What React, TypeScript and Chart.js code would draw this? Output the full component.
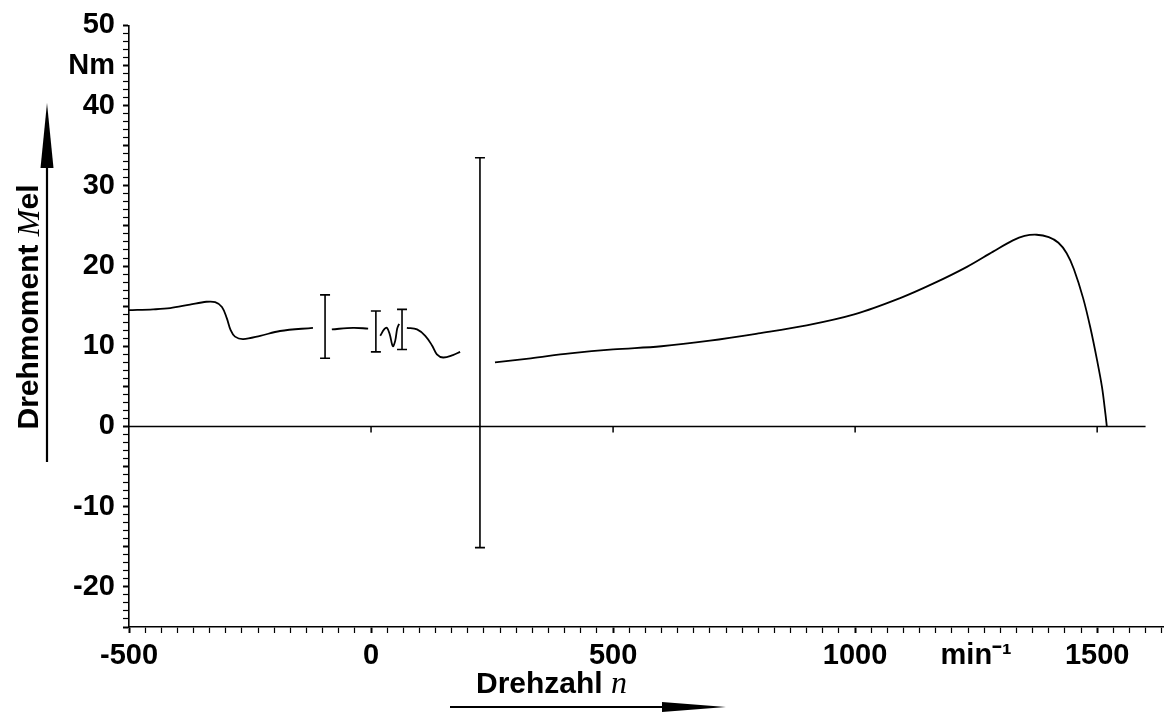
import React, { useEffect, useRef } from "react";
import { Chart, registerables } from "chart.js";

Chart.register(...registerables);

// ---- data (speed n in min^-1, torque M_el in Nm) ----
const seg1Speed = [-500, -450, -415, -374, -340, -322, -308, -298, -290, -281, -264, -229, -188, -120];
const seg1Torque = [14.5, 14.6, 14.75, 15.2, 15.55, 15.5, 14.9, 13.5, 12.0, 11.2, 10.9, 11.3, 11.9, 12.3];
const seg2Speed = [-81, -37, -6];
const seg2Torque = [12.1, 12.3, 12.2];
const seg3Speed = [19, 27, 33, 39, 45, 50, 54, 58];
const seg3Torque = [11.3, 12.1, 12.3, 11.4, 10.0, 10.7, 12.2, 12.8];
const seg4Speed = [74, 95, 112, 126, 136, 149, 169, 184];
const seg4Torque = [12.3, 12.1, 11.3, 10.1, 9.0, 8.6, 8.9, 9.3];
const seg5Speed = [256, 330, 411, 500, 600, 700, 800, 900, 1000, 1093, 1161, 1231, 1285, 1326, 1350, 1375, 1400, 1420, 1437, 1452, 1471, 1486, 1500, 1510, 1517, 1520];
const seg5Torque = [8.0, 8.5, 9.1, 9.6, 10.0, 10.7, 11.6, 12.6, 14.0, 16.0, 17.8, 19.9, 21.8, 23.2, 23.75, 23.9, 23.6, 22.9, 21.6, 19.6, 16.0, 12.3, 8.2, 4.9, 1.6, 0];

const errSpeed = [-95, 10, 64, 225];
const errLow = [8.5, 9.3, 9.6, -15.1];
const errHigh = [16.4, 14.4, 14.6, 33.5];

const zeroLineSpeed = [-500, 1600];
const zeroLineTicks = [0, 500, 1000, 1500];

const xMin = -500;
const xMax = 1636;
const xMinorStep = 100 / 3;
const xLabelValues = [-500, 0, 500, 1000, 1500];
const xUnitPos = 1250;
const xUnitLabel = "min\u207B\u00B9";

const yMin = -25;
const yMax = 50;
const yMinorStep = 1;
const yLabelValues = [-20, -10, 0, 10, 20, 30, 40, 50];
const yUnitPos = 45;
const yUnitLabel = "Nm";

const SANS = "'Liberation Sans', Arial, sans-serif";
const SERIF = "'Liberation Serif', 'Times New Roman', serif";

function segPoints(xs: number[], ys: number[]) {
  return xs.map((x, i) => ({ x, y: ys[i] }));
}

function buildCurve() {
  const segs = [
    segPoints(seg1Speed, seg1Torque),
    segPoints(seg2Speed, seg2Torque),
    segPoints(seg3Speed, seg3Torque),
    segPoints(seg4Speed, seg4Torque),
    segPoints(seg5Speed, seg5Torque),
  ];
  const out: any[] = [];
  segs.forEach((s, i) => {
    if (i > 0) out.push({ x: (s[0].x + out[out.length - 1].x) / 2, y: null });
    out.push(...s);
  });
  return out;
}

const near = (a: number, b: number) => Math.abs(a - b) < 1e-6;

const overlay = {
  id: "overlay",
  afterDatasetsDraw(chart: any) {
    const ctx = chart.ctx;
    const xs = chart.scales.x;
    const ys = chart.scales.y;
    ctx.save();
    ctx.strokeStyle = "#000";
    ctx.lineWidth = 1.6;
    errSpeed.forEach((s, i) => {
      const px = xs.getPixelForValue(s);
      const pl = ys.getPixelForValue(errLow[i]);
      const ph = ys.getPixelForValue(errHigh[i]);
      ctx.beginPath();
      ctx.moveTo(px, pl);
      ctx.lineTo(px, ph);
      ctx.moveTo(px - 5, pl);
      ctx.lineTo(px + 5, pl);
      ctx.moveTo(px - 5, ph);
      ctx.lineTo(px + 5, ph);
      ctx.stroke();
    });
    const p0 = ys.getPixelForValue(0);
    ctx.lineWidth = 1.5;
    zeroLineTicks.forEach((s) => {
      const px = xs.getPixelForValue(s);
      ctx.beginPath();
      ctx.moveTo(px, p0);
      ctx.lineTo(px, p0 + 6);
      ctx.stroke();
    });
    ctx.restore();
  },
  afterDraw(chart: any) {
    const ctx = chart.ctx;
    ctx.save();
    ctx.fillStyle = "#000";
    ctx.strokeStyle = "#000";
    ctx.translate(30, 307);
    ctx.rotate(-Math.PI / 2);
    ctx.textBaseline = "middle";
    const f1 = `bold 30px ${SANS}`;
    const f2 = `italic 32px ${SERIF}`;
    ctx.font = f1;
    const w1 = ctx.measureText("Drehmoment ").width;
    ctx.font = f2;
    const w2 = ctx.measureText("M").width;
    ctx.font = f1;
    const w3 = ctx.measureText("el").width;
    const x0 = -(w1 + w2 + w3) / 2;
    ctx.textAlign = "left";
    ctx.font = f1;
    ctx.fillText("Drehmoment ", x0, 0);
    ctx.font = f2;
    ctx.fillText("M", x0 + w1, 1);
    ctx.font = f1;
    ctx.fillText("el", x0 + w1 + w2, 0);
    ctx.setTransform(1, 0, 0, 1, 0, 0);

    ctx.lineWidth = 2.2;
    ctx.beginPath();
    ctx.moveTo(47, 462);
    ctx.lineTo(47, 160);
    ctx.stroke();
    ctx.beginPath();
    ctx.moveTo(47, 103);
    ctx.lineTo(53.5, 168);
    ctx.lineTo(40.5, 168);
    ctx.closePath();
    ctx.fill();

    ctx.textBaseline = "middle";
    ctx.textAlign = "left";
    ctx.font = f1;
    ctx.fillText("Drehzahl ", 476, 685);
    const wd = ctx.measureText("Drehzahl ").width;
    ctx.font = f2;
    ctx.fillText("n", 476 + wd, 685);

    ctx.beginPath();
    ctx.moveTo(450, 707);
    ctx.lineTo(670, 707);
    ctx.stroke();
    ctx.beginPath();
    ctx.moveTo(726, 707);
    ctx.lineTo(662, 702);
    ctx.lineTo(662, 712);
    ctx.closePath();
    ctx.fill();
    ctx.restore();
  },
};

export default function App() {
  const ref = useRef<HTMLCanvasElement | null>(null);
  useEffect(() => {
    if (!ref.current) return;
    const chart = new Chart(ref.current, {
      type: "line",
      data: {
        datasets: [
          {
            data: buildCurve(),
            borderColor: "#000",
            borderWidth: 1.8,
            pointRadius: 0,
            tension: 0.35,
            spanGaps: false,
            fill: false,
          },
          {
            data: zeroLineSpeed.map((x) => ({ x, y: 0 })),
            borderColor: "#000",
            borderWidth: 1.5,
            pointRadius: 0,
            fill: false,
          },
        ],
      },
      plugins: [overlay],
      options: {
        animation: false,
        responsive: false,
        devicePixelRatio: 1,
        layout: { padding: { top: 24, right: 13, left: 0, bottom: 0 } },
        plugins: { legend: { display: false }, tooltip: { enabled: false } },
        scales: {
          x: {
            type: "linear",
            min: xMin,
            max: xMax,
            position: "bottom",
            afterBuildTicks: (scale: any) => {
              const t: any[] = [];
              for (let v = xMin; v <= xMax + 1e-6; v += xMinorStep) {
                const r = Math.round(v);
                t.push({ value: Math.abs(v - r) < 1e-3 ? r : v });
              }
              t.push({ value: xUnitPos });
              t.sort((a, b) => a.value - b.value);
              scale.ticks = t;
            },
            afterFit: (scale: any) => {
              scale.height = 86;
            },
            grid: {
              drawOnChartArea: false,
              drawTicks: true,
              tickLength: 6,
              tickColor: (c: any) => (c.tick && near(c.tick.value, xUnitPos) ? "rgba(0,0,0,0)" : "#000"),
              tickWidth: (c: any) => (c.tick && xLabelValues.some((v) => near(v, c.tick.value)) ? 2 : 1.2),
            },
            border: { display: true, color: "#000", width: 1.6 },
            ticks: {
              autoSkip: false,
              maxRotation: 0,
              padding: 6,
              color: "#000",
              font: { family: SANS, size: 29, weight: "bold" },
              callback: (v: any) => {
                if (near(v, xUnitPos)) return xUnitLabel;
                const f = xLabelValues.find((l) => near(l, v));
                return f !== undefined ? String(f) : "";
              },
            },
          },
          y: {
            type: "linear",
            min: yMin,
            max: yMax,
            afterBuildTicks: (scale: any) => {
              const t: any[] = [];
              for (let v = yMin; v <= yMax; v += yMinorStep) t.push({ value: v });
              scale.ticks = t;
            },
            afterFit: (scale: any) => {
              scale.width = 129;
            },
            grid: {
              drawOnChartArea: false,
              drawTicks: true,
              tickLength: 6,
              tickColor: "#000",
              tickWidth: (c: any) => (c.tick && c.tick.value % 5 === 0 ? 2 : 1.2),
            },
            border: { display: true, color: "#000", width: 1.6 },
            ticks: {
              autoSkip: false,
              padding: 8,
              color: "#000",
              font: { family: SANS, size: 29, weight: "bold" },
              callback: (v: any) => {
                if (near(v, yUnitPos)) return yUnitLabel;
                const f = yLabelValues.find((l) => near(l, v));
                return f !== undefined ? String(f) : "";
              },
            },
          },
        },
      } as any,
    });
    return () => chart.destroy();
  }, []);
  return (
    <div style={{ position: "fixed", left: 0, top: 0, width: 1176, height: 713, background: "#fff" }}>
      <canvas ref={ref} width={1176} height={713} style={{ display: "block" }} />
    </div>
  );
}
